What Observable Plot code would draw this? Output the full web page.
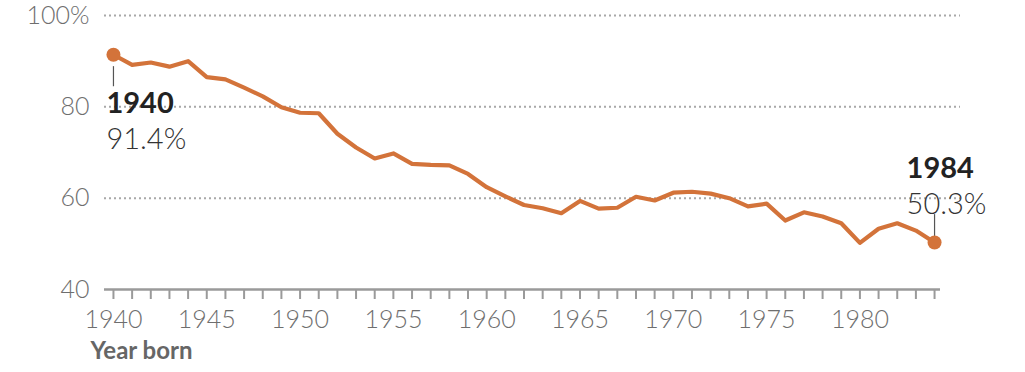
<!DOCTYPE html>
<html><head><meta charset="utf-8">
<script src="https://cdn.jsdelivr.net/npm/d3@7"></script>
<script src="https://cdn.jsdelivr.net/npm/@observablehq/plot@0.6"></script>
<style>body{margin:0;background:#fff;} #chart{width:1025px;height:372px;}</style>
</head><body><div id="chart"></div>
<script>
const years = d3.range(1940, 1985);
const values = [
  91.4, 89.2, 89.7, 88.8, 90.0, 86.5, 86.0, 84.2, 82.3, 79.9,
  78.7, 78.6, 74.1, 71.1, 68.7, 69.8, 67.5, 67.3, 67.2, 65.3,
  62.4, 60.4, 58.5, 57.8, 56.7, 59.4, 57.7, 57.9, 60.3, 59.5,
  61.2, 61.4, 61.0, 60.0, 58.2, 58.8, 55.1, 56.9, 56.0, 54.5,
  50.2, 53.3, 54.5, 52.9, 50.3
];
const yTicks = [40, 60, 80, 100];
const gridValues = [60, 80, 100];
const xLabelYears = [1940, 1945, 1950, 1955, 1960, 1965, 1970, 1975, 1980];
const axisTitle = "Year born";
const startPoint = {year: 1940, value: 91.4, label: "91.4%"};
const endPoint = {year: 1984, value: 50.3, label: "50.3%"};

const data = years.map((y, i) => ({year: y, value: values[i]}));
const orange = "#d3733a";

const chart = Plot.plot({
  width: 1025, height: 372,
  marginLeft: 104, marginRight: 65, marginTop: 15, marginBottom: 83,
  x: {domain: [1939.52, 1985.39]},
  y: {domain: [40, 100]},
  style: {fontFamily: "Lato, sans-serif", fontSize: "25px", background: "white", overflow: "visible"},
  marks: [
    Plot.ruleY(gridValues, {stroke: "#a8a8a8", strokeWidth: 2, strokeDasharray: "2,3"}),
    Plot.ruleY([40], {stroke: "#9a9a9a", strokeWidth: 2.5, insetRight: 20}),
    Plot.axisX({ticks: years, tickSize: 10, tickPadding: 11, stroke: "#9a9a9a", strokeWidth: 2,
      tickFormat: d => xLabelYears.includes(d) ? String(d) : "", fill: "#6e6e6e", fontWeight: 300, label: null}),
    Plot.axisY({ticks: yTicks, tickSize: 0, tickPadding: 15,
      tickFormat: d => d === 100 ? "100%" : String(d), fill: "#6e6e6e", fontWeight: 300, label: null}),
    Plot.text([axisTitle], {frameAnchor: "bottom-left", dx: -14, dy: 69, textAnchor: "start",
      fontWeight: "bold", fontSize: 24, fill: "#666", letterSpacing: "1.3px"}),
    Plot.line(data, {x: "year", y: "value", stroke: orange, strokeWidth: 4.2}),
    Plot.ruleX([startPoint], {x: "year", y1: d => d.value - 2.6, y2: d => d.value - 7.0, stroke: "#555", strokeWidth: 1.2}),
    Plot.ruleX([endPoint], {x: "year", y1: d => d.value + 1.3, y2: d => d.value + 6.1, stroke: "#555", strokeWidth: 1.2}),
    Plot.dot([startPoint, endPoint], {x: "year", y: "value", r: 7, fill: orange}),
    Plot.text([startPoint], {x: "year", y: "value", text: d => String(d.year), textAnchor: "start", dx: -7, dy: 49,
      fontWeight: "bold", fontSize: 29, fill: "#222", letterSpacing: "0.6px"}),
    Plot.text([startPoint], {x: "year", y: "value", text: "label", textAnchor: "start", dx: -7, dy: 85,
      fontWeight: 300, fontSize: 29, fill: "#333", letterSpacing: "0.6px"}),
    Plot.text([endPoint], {x: "year", y: "value", text: d => String(d.year), textAnchor: "start", dx: -28, dy: -74,
      fontWeight: "bold", fontSize: 29, fill: "#222", letterSpacing: "0.6px"}),
    Plot.text([endPoint], {x: "year", y: "value", text: "label", textAnchor: "start", dx: -28, dy: -38,
      fontWeight: 300, fontSize: 29, fill: "#333", letterSpacing: "0.6px"})
  ]
});
document.getElementById("chart").appendChild(chart);
</script>
</body></html>
